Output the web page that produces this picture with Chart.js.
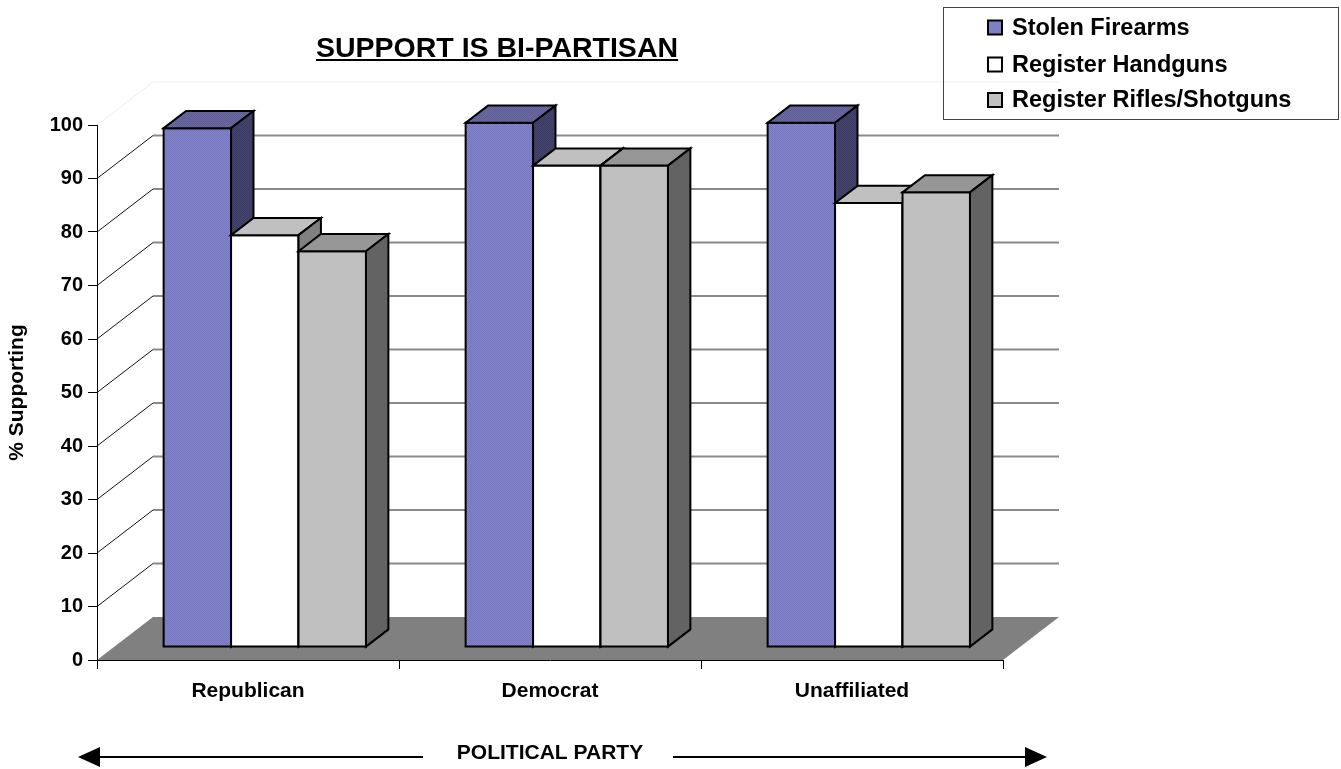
<!DOCTYPE html>
<html>
<head>
<meta charset="utf-8">
<title>Support Is Bi-Partisan</title>
<script src="https://cdn.jsdelivr.net/npm/chart.js@4"></script>
<style>
  html, body { margin: 0; padding: 0; background: #ffffff; }
  #wrap { width: 1341px; height: 769px; position: relative; }
</style>
</head>
<body>
<div id="wrap"><canvas id="chart" width="1341" height="769"></canvas></div>
<script>
// Survey results: % supporting each measure, by political party
const categories = ['Republican', 'Democrat', 'Unaffiliated'];
const stolenFirearms = [97, 98, 98];
const registerHandguns = [77, 90, 83];
const registerRiflesShotguns = [74, 90, 85];
const seriesNames = ['Stolen Firearms', 'Register Handguns', 'Register Rifles/Shotguns'];
const yMin = 0, yMax = 100, yStep = 10;

const FONT = "'Liberation Sans', Arial, Helvetica, sans-serif";

// depth direction of the 3-D box (full depth of the plot)
const DEPTH = { dx: 56, dy: -43 };
const BAR_FRONT = 0.30;   // fraction of depth where bar fronts sit
const BAR_BACK = 0.70;    // fraction of depth where bar backs sit

// fine dotted fill for the blue series
function dotted(c1, c2) {
  const p = document.createElement('canvas');
  p.width = 2; p.height = 2;
  const g = p.getContext('2d');
  g.fillStyle = c1; g.fillRect(0, 0, 2, 2);
  g.fillStyle = c2; g.fillRect(0, 0, 1, 1); g.fillRect(1, 1, 1, 1);
  return g.createPattern(p, 'repeat');
}
const faces = [
  { front: dotted('#8484cc', '#7676bc'), top: dotted('#6a6aa2', '#5e5e94'), side: dotted('#44446f', '#3b3b62'), swatch: '#7f7fc4' },
  { front: '#ffffff', top: '#c0c0c0', side: '#808080', swatch: '#ffffff' },
  { front: '#c0c0c0', top: '#969696', side: '#636363', swatch: '#c0c0c0' }
];

function drawBox(ctx, x0, x1, yTop, yBase, dx, dy, f) {
  ctx.lineWidth = 2;
  ctx.strokeStyle = '#000';
  ctx.lineJoin = 'miter';
  // front face
  ctx.beginPath();
  ctx.rect(x0, yTop, x1 - x0, yBase - yTop);
  ctx.fillStyle = f.front; ctx.fill(); ctx.stroke();
  // top face
  ctx.beginPath();
  ctx.moveTo(x0, yTop); ctx.lineTo(x0 + dx, yTop + dy);
  ctx.lineTo(x1 + dx, yTop + dy); ctx.lineTo(x1, yTop); ctx.closePath();
  ctx.fillStyle = f.top; ctx.fill(); ctx.stroke();
  // right side face
  ctx.beginPath();
  ctx.moveTo(x1, yTop); ctx.lineTo(x1 + dx, yTop + dy);
  ctx.lineTo(x1 + dx, yBase + dy); ctx.lineTo(x1, yBase); ctx.closePath();
  ctx.fillStyle = f.side; ctx.fill(); ctx.stroke();
}

const box3d = {
  id: 'box3d',
  beforeDraw(chart) {
    const ctx = chart.ctx;
    const a = chart.chartArea;
    const ys = chart.scales.y;
    ctx.save();
    // back wall gridlines and their diagonal links to the value axis
    ys.ticks.forEach(t => {
      if (t.value === yMin) return;
      const yF = ys.getPixelForValue(t.value);
      const yB = yF + DEPTH.dy;
      const top = t.value === yMax;
      ctx.lineWidth = top ? 1 : 2;
      ctx.strokeStyle = top ? '#eeeeee' : '#8a8a8a';
      ctx.beginPath();
      ctx.moveTo(a.left + DEPTH.dx, yB); ctx.lineTo(a.right + DEPTH.dx, yB);
      ctx.stroke();
      ctx.lineWidth = 1;
      ctx.strokeStyle = top ? '#eeeeee' : '#111111';
      ctx.beginPath();
      ctx.moveTo(a.left, yF); ctx.lineTo(a.left + DEPTH.dx, yB);
      ctx.stroke();
    });
    // floor
    const y0 = ys.getPixelForValue(yMin);
    ctx.beginPath();
    ctx.moveTo(a.left, y0);
    ctx.lineTo(a.left + DEPTH.dx, y0 + DEPTH.dy);
    ctx.lineTo(a.right + DEPTH.dx, y0 + DEPTH.dy);
    ctx.lineTo(a.right, y0);
    ctx.closePath();
    ctx.fillStyle = '#808080';
    ctx.fill();
    ctx.restore();
  },
  beforeDatasetDraw() {
    return false; // bars are drawn as boxes below
  },
  afterDatasetsDraw(chart) {
    const ctx = chart.ctx;
    const ox = DEPTH.dx * BAR_FRONT, oy = DEPTH.dy * BAR_FRONT;
    const bx = DEPTH.dx * (BAR_BACK - BAR_FRONT), by = DEPTH.dy * (BAR_BACK - BAR_FRONT);
    ctx.save();
    for (let j = 0; j < categories.length; j++) {
      chart.data.datasets.forEach((ds, i) => {
        const el = chart.getDatasetMeta(i).data[j];
        const x0 = el.x - el.width / 2 + ox;
        const x1 = el.x + el.width / 2 + ox;
        drawBox(ctx, x0, x1, el.y + oy, el.base + oy, bx, by, faces[i]);
      });
    }
    ctx.restore();
  },
  afterDraw(chart) {
    const ctx = chart.ctx;
    ctx.save();
    // title
    ctx.fillStyle = '#000';
    ctx.font = 'bold 28.5px ' + FONT;
    ctx.textAlign = 'center';
    ctx.textBaseline = 'alphabetic';
    const title = 'SUPPORT IS BI-PARTISAN';
    const tx = 497, ty = 57;
    ctx.fillText(title, tx, ty);
    const tw = ctx.measureText(title).width;
    ctx.fillRect(tx - tw / 2, ty + 2, tw, 2);

    // legend
    ctx.lineWidth = 1;
    ctx.strokeStyle = '#444';
    ctx.strokeRect(943.5, 7.5, 395, 112);
    ctx.font = 'bold 23.5px ' + FONT;
    ctx.textAlign = 'left';
    ctx.textBaseline = 'middle';
    const rows = [27.5, 64.5, 100];
    chart.data.datasets.forEach((ds, i) => {
      const cy = rows[i];
      ctx.fillStyle = faces[i].swatch;
      ctx.fillRect(988, cy - 7, 14, 14);
      ctx.lineWidth = 2;
      ctx.strokeStyle = '#000';
      ctx.strokeRect(988, cy - 7, 14, 14);
      ctx.fillStyle = '#000';
      ctx.fillText(ds.label, 1012, cy + 1);
    });

    // double-headed axis arrow around the x title
    const ay = 757;
    ctx.lineWidth = 2;
    ctx.strokeStyle = '#000';
    ctx.beginPath();
    ctx.moveTo(96, ay); ctx.lineTo(423, ay);
    ctx.moveTo(673, ay); ctx.lineTo(1028, ay);
    ctx.stroke();
    ctx.fillStyle = '#000';
    ctx.beginPath();
    ctx.moveTo(78, ay); ctx.lineTo(100, ay - 10); ctx.lineTo(100, ay + 10); ctx.closePath();
    ctx.fill();
    ctx.beginPath();
    ctx.moveTo(1047, ay); ctx.lineTo(1025, ay - 10); ctx.lineTo(1025, ay + 10); ctx.closePath();
    ctx.fill();
    ctx.restore();
  }
};

new Chart(document.getElementById('chart'), {
  type: 'bar',
  data: {
    labels: categories,
    datasets: [
      { label: seriesNames[0], data: stolenFirearms, backgroundColor: '#7f7fc4' },
      { label: seriesNames[1], data: registerHandguns, backgroundColor: '#ffffff' },
      { label: seriesNames[2], data: registerRiflesShotguns, backgroundColor: '#c0c0c0' }
    ]
  },
  options: {
    responsive: false,
    devicePixelRatio: 1,
    animation: false,
    events: [],
    categoryPercentage: 0.67,
    barPercentage: 1.0,
    layout: { padding: { top: 125, left: 0, right: 338, bottom: 0 } },
    plugins: {
      legend: { display: false },
      title: { display: false },
      tooltip: { enabled: false }
    },
    scales: {
      x: {
        afterFit(s) { s.height = 109; },
        grid: { display: true, drawOnChartArea: false, drawTicks: true, tickLength: 9, color: '#000', offset: true },
        border: { display: true, color: '#000', width: 1 },
        ticks: { color: '#000', font: { family: FONT, size: 21, weight: 'bold' }, padding: 10, maxRotation: 0 },
        title: { display: true, text: 'POLITICAL PARTY', color: '#000', font: { family: FONT, size: 21, weight: 'bold' }, padding: { top: 0, bottom: 3 } }
      },
      y: {
        min: yMin, max: yMax,
        afterFit(s) { s.width = 97; },
        grid: { display: true, drawOnChartArea: false, drawTicks: true, tickLength: 9, color: '#000' },
        border: { display: true, color: '#000', width: 1 },
        ticks: { stepSize: yStep, color: '#000', font: { family: FONT, size: 20, weight: 'bold' }, padding: 5 },
        title: { display: true, text: '% Supporting', color: '#000', font: { family: FONT, size: 21, weight: 'bold' }, padding: { top: 5, bottom: 0 } }
      }
    }
  },
  plugins: [box3d]
});
</script>
</body>
</html>
